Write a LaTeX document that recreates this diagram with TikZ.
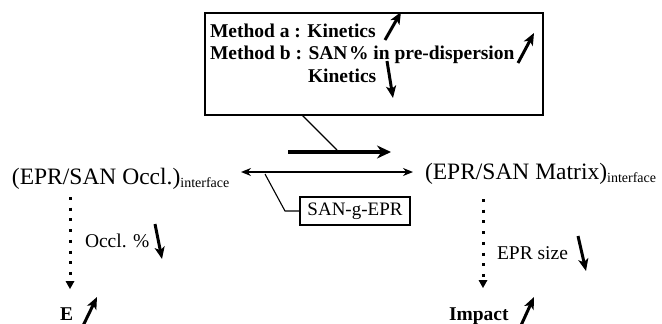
\documentclass[tikz,border=0pt]{standalone}
\usepackage{fontspec}
\setmainfont{Liberation Serif}
\usetikzlibrary{arrows.meta}

\tikzset{
  label/.style={inner sep=0pt, outer sep=0pt, anchor=base west,
    font=\fontsize{23.5}{27}\selectfont},
  bodytxt/.style={inner sep=0pt, outer sep=0pt, anchor=base west,
    font=\fontsize{19.5}{23}\selectfont},
  boldtxt/.style={inner sep=0pt, outer sep=0pt, anchor=base west,
    font=\fontsize{19.5}{23}\selectfont\bfseries},
  trend/.style={line width=3pt,
    -{Stealth[length=12pt,width=10pt,inset=3pt]}},
  link/.style={line width=1.1pt},
  flow/.style={line width=1.4pt,
    {Stealth[length=10pt,width=8pt]}-{Stealth[length=10pt,width=8pt]}},
  push/.style={line width=3.6pt,
    -{Stealth[length=14pt,width=13pt]}},
  dotline/.style={line width=3pt, dash pattern=on 3pt off 7.7pt},
  framebox/.style={draw, line width=1.8pt, inner sep=0pt},
}

\newcommand{\iface}{\raisebox{-3.5pt}{\fontsize{14}{14}\selectfont interface}}

\begin{document}
\begin{tikzpicture}[x=1pt,y=-1pt]
  \useasboundingbox (0,0) rectangle (662,324);

  % method box
  \node[framebox, minimum width=338pt, minimum height=102pt] (methods) at (374,64) {};
  \node[boldtxt] (ma) at (210,37) {Method a : Kinetics};
  \node[boldtxt] (mb) at (210,59) {Method b : SAN\kern1.5pt\% in pre-dispersion};
  \node[boldtxt] (mc) at (308,82) {Kinetics};
  \draw[trend] (385,40) -- (401,12);
  \draw[trend] (518,63) -- (534,33);
  \draw[trend] (387,61) -- (393,98);

  % interfaces
  \node[label] (occl) at (12,184) {(EPR/SAN Occl.)\iface};
  \node[label] (matrix) at (425,179) {(EPR/SAN Matrix)\iface};

  % driving arrow and pointer from the method box
  \coordinate (tap) at (302,115);
  \coordinate (pushS) at (288,152);
  \coordinate (pushE) at (391,152);
  \coordinate (pushM) at (337,150);
  \draw[link] (tap) -- (pushM);
  \draw[push] (pushS) -- (pushE);

  % exchange between the two interfaces
  \coordinate (flowL) at (241,172);
  \coordinate (flowR) at (413,172);
  \draw[flow] (flowL) -- (flowR);

  % compatibiliser
  \node[draw, line width=1.5pt, minimum width=110pt, minimum height=28pt,
        inner sep=0pt, font=\fontsize{19}{22}\selectfont] (graft) at (355,211) {SAN-g-EPR};
  \coordinate (gtap) at (265,174);
  \draw[link] (gtap) -- (285,211) -- (graft.west);

  % consequences: dotted links ending in small solid heads
  \coordinate (occlD) at (70,197);
  \coordinate (eTop) at (70,289);
  \draw[dotline] (occlD) -- (70,280);
  \fill (eTop) -- (65.5,281) -- (74.5,281) -- cycle;
  \node[bodytxt] (occlpct) at (85,247) {Occl. \%};
  \draw[trend] (155,224) -- (162,259);
  \node[boldtxt] (emod) at (60,320) {E};
  \draw[trend] (80,332) -- (97,297);

  \coordinate (matD) at (483,199);
  \coordinate (impTop) at (483,288);
  \draw[dotline] (matD) -- (483,279);
  \fill (impTop) -- (478.5,280) -- (487.5,280) -- cycle;
  \node[bodytxt] (eprsize) at (497,259) {EPR size};
  \draw[trend] (578,236) -- (586,271);
  \node[boldtxt] (impact) at (449,320) {Impact};
  \draw[trend] (518,332) -- (534,297);
\end{tikzpicture}
\end{document}
